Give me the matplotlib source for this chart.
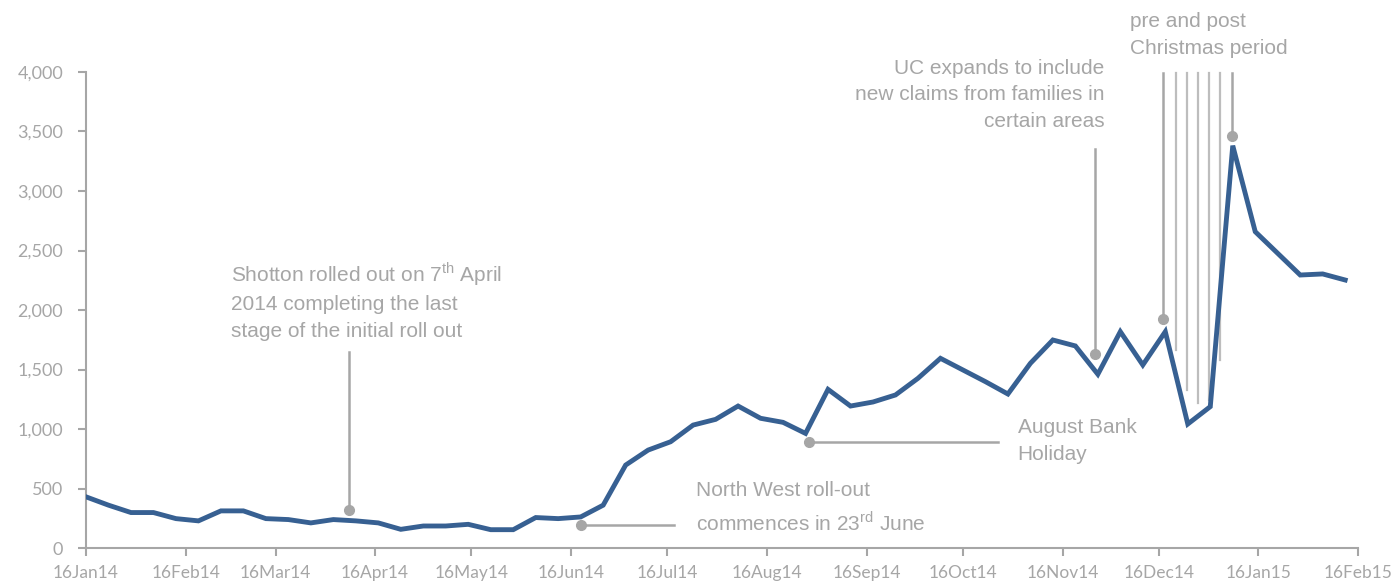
import numpy as np
import pandas as pd
import matplotlib
matplotlib.use("Agg")
import matplotlib.pyplot as plt
import matplotlib.dates as mdates

# weekly claims, week starting 16 Jan 2014
start_date = "2014-01-16"
claims = [430, 360, 298, 298, 247, 228, 312, 312, 247, 239,
          211, 239, 228, 211, 157, 185, 185, 199, 154, 154,
          256, 247, 261, 360, 697, 823, 893, 1033, 1081, 1193,
          1090, 1056, 963, 1333, 1193, 1227, 1286, 1426, 1594, 1496,
          1398, 1294, 1552, 1748, 1698, 1460, 1818, 1538, 1818, 1042,
          1188, 3381, 2658, 2476, 2294, 2303, 2252]
weeks = pd.date_range(start_date, periods=len(claims), freq="7D")

tick_dates = pd.date_range("2014-01-01", "2015-02-01", freq="MS") + pd.Timedelta(days=15)
y_ticks = [0, 500, 1000, 1500, 2000, 2500, 3000, 3500, 4000]

GREY = "#a6a6a6"
LINE = "#376092"
plt.rcParams["font.family"] = ["Liberation Sans", "DejaVu Sans"]
plt.rcParams["mathtext.fontset"] = "custom"
plt.rcParams["mathtext.rm"] = "Liberation Sans"

fig = plt.figure(figsize=(13.94, 5.82), dpi=100)
ax = fig.add_axes([0.0617, 0.0584, 0.9125, 0.8179])

ax.plot(weeks, claims, color=LINE, lw=3.5, solid_joinstyle="miter", zorder=3)

ax.set_xlim(pd.Timestamp("2014-01-16"), pd.Timestamp("2015-02-16"))
ax.set_ylim(0, 4000)
ax.set_xticks(tick_dates)
ax.xaxis.set_major_formatter(mdates.DateFormatter("%d%b%y"))
ax.set_yticks(y_ticks)
ax.set_yticklabels([f"{v:,}" for v in y_ticks])

for s in ["top", "right"]:
    ax.spines[s].set_visible(False)
for s in ["left", "bottom"]:
    ax.spines[s].set_color(GREY)
    ax.spines[s].set_linewidth(1.5)
ax.tick_params(axis="both", colors=GREY, width=1.5, length=6, direction="out")
for lab in ax.get_xticklabels():
    lab.set_family(["Lato", "DejaVu Sans"])
    lab.set_fontsize(12.5)
for lab in ax.get_yticklabels():
    lab.set_family(["Lato", "DejaVu Sans"])
    lab.set_fontsize(13)
ax.tick_params(axis="x", pad=6)
ax.tick_params(axis="y", pad=10.5)

D = pd.Timestamp
txt = dict(color=GREY, fontsize=15, linespacing=1.5, clip_on=False)
ann = dict(color=GREY, lw=1.8, clip_on=False, zorder=2)
dot = dict(color=GREY, marker="o", ms=7, ls="none", clip_on=False, zorder=2)

# Shotton
ax.plot([D("2014-04-08")] * 2, [319, 1647], **ann)
ax.plot(D("2014-04-08"), 319, **dot)
ax.text(D("2014-03-02"), 2420, "Shotton rolled out on 7$^{\\rm th}$ April\n2014 completing the last\nstage of the initial roll out",
        ha="left", va="top", **txt)

# North West
ax.plot([D("2014-06-19"), D("2014-07-18")], [193, 193], **ann)
ax.plot(D("2014-06-19"), 193, **dot)
ax.text(D("2014-07-25"), 560, "North West roll-out\ncommences in 23$^{\\rm rd}$ June",
        ha="left", va="top", **txt)

# August bank holiday
ax.plot([D("2014-08-29"), D("2014-10-27")], [890, 890], **ann)
ax.plot(D("2014-08-29"), 890, **dot)
ax.text(D("2014-11-02"), 1090, "August Bank\nHoliday", ha="left", va="top", **txt)

# UC expands
ax.plot([D("2014-11-26")] * 2, [1630, 3353], **ann)
ax.plot(D("2014-11-26"), 1630, **dot)
ax.text(D("2014-11-29"), 4110, "UC expands to include\nnew claims from families in\ncertain areas",
        ha="right", va="top", multialignment="right", **txt)

# Christmas period
xmas_x = [335.3, 339.3, 342.8, 346.2, 349.6, 353.0, 356.8]
xmas_y = [1924, 1664, 1328, 1218, 1244, 1580, 3462]
for i, (dx, yb) in enumerate(zip(xmas_x, xmas_y)):
    xd = D("2014-01-16") + pd.Timedelta(days=dx)
    if i in (0, len(xmas_x) - 1):
        ax.plot([xd, xd], [yb, 3992], **ann)
        ax.plot(xd, yb, **dot)
    else:
        ax.plot([xd, xd], [yb, 3992], color="#bdbdbd", lw=1.6, clip_on=False, zorder=2)
ax.text(D("2014-12-07"), 4500, "pre and post\nChristmas period", ha="left", va="top", **txt)

fig.savefig("out.png", dpi=100)
